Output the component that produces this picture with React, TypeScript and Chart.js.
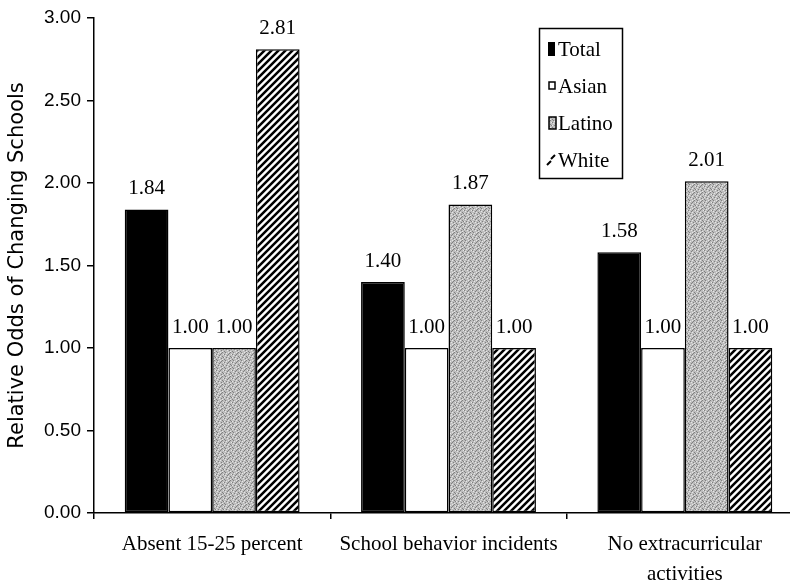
import React, { useEffect, useRef } from "react";
import { Chart, registerables } from "chart.js";

Chart.register(...registerables);

// Categories along the x axis (multi-line labels as arrays)
const categories: (string | string[])[] = [
  "Absent 15-25 percent",
  "School behavior incidents",
  ["No extracurricular", "activities"],
];

// Series
const seriesNames = ["Total", "Asian", "Latino", "White"];
const totalValues = [1.84, 1.4, 1.58];
const asianValues = [1.0, 1.0, 1.0];
const latinoValues = [1.0, 1.87, 2.01];
const whiteValues = [2.81, 1.0, 1.0];

// Y axis
const yTickValues = [0, 0.5, 1, 1.5, 2, 2.5, 3];
const yAxisTitle = "Relative Odds of Changing Schools";

const SERIF = "'Liberation Serif', 'Times New Roman', serif";

// Grey speckled texture for the Latino bars
function makeStipple(): CanvasPattern {
  const rows = [
    "aBaaCaBa",
    "aaCaaBaa",
    "BaaaBaaC",
    "aCaBaaaa",
    "aaaaCaBa",
    "CaBaaaaB",
    "aaaCaBaa",
    "BaaaaaCa",
  ];
  const c = document.createElement("canvas");
  c.width = 8;
  c.height = 8;
  const g = c.getContext("2d")!;
  const col: Record<string, string> = { a: "#bdbdbd", B: "#808080", C: "#e6e6e6" };
  rows.forEach((r, y) => {
    for (let x = 0; x < r.length; x++) {
      g.fillStyle = col[r[x]];
      g.fillRect(x, y, 1, 1);
    }
  });
  return g.createPattern(c, "repeat")!;
}

// Diagonal "///" hatch for the White bars
function makeHatch(): CanvasPattern {
  const s = 7;
  const c = document.createElement("canvas");
  c.width = s;
  c.height = s;
  const g = c.getContext("2d")!;
  g.fillStyle = "#ffffff";
  g.fillRect(0, 0, s, s);
  g.strokeStyle = "#000000";
  g.lineWidth = 2.5;
  g.beginPath();
  g.moveTo(-1, s + 1);
  g.lineTo(s + 1, -1);
  g.moveTo(-1, 1);
  g.lineTo(1, -1);
  g.moveTo(s - 1, s + 1);
  g.lineTo(s + 1, s - 1);
  g.stroke();
  return g.createPattern(c, "repeat")!;
}

// Value printed above every bar
const valueLabels = {
  id: "valueLabels",
  afterDatasetsDraw(chart: any) {
    const ctx = chart.ctx as CanvasRenderingContext2D;
    ctx.save();
    ctx.font = `21px ${SERIF}`;
    ctx.fillStyle = "#000";
    ctx.textAlign = "center";
    ctx.textBaseline = "alphabetic";
    chart.data.datasets.forEach((ds: any, i: number) => {
      const meta = chart.getDatasetMeta(i);
      meta.data.forEach((bar: any, j: number) => {
        const v = ds.data[j] as number;
        ctx.fillText(v.toFixed(2), bar.x, bar.y - 15);
      });
    });
    ctx.restore();
  },
};

// Boxed legend in the upper right of the plot
const legendBox = {
  id: "legendBox",
  afterDraw(chart: any) {
    const ctx = chart.ctx as CanvasRenderingContext2D;
    const ds = chart.data.datasets;
    ctx.save();
    ctx.fillStyle = "#fff";
    ctx.fillRect(539.5, 28.5, 83, 150);
    ctx.strokeStyle = "#000";
    ctx.lineWidth = 1.5;
    ctx.strokeRect(539.5, 28.5, 83, 150);
    ctx.font = `21px ${SERIF}`;
    ctx.textAlign = "left";
    ctx.textBaseline = "alphabetic";
    seriesNames.forEach((name, i) => {
      const base = 56 + i * 37;
      ctx.lineWidth = 1.5;
      ctx.strokeStyle = "#000";
      if (i === 0) {
        ctx.fillStyle = "#000";
        ctx.fillRect(548, base - 14, 7, 14);
      } else if (i === 1) {
        ctx.fillStyle = "#fff";
        ctx.fillRect(549, base - 11, 6, 7);
        ctx.strokeRect(549, base - 11, 6, 7);
      } else if (i === 2) {
        ctx.fillStyle = ds[2].backgroundColor;
        ctx.fillRect(549, base - 13, 7, 12);
        ctx.strokeRect(549, base - 13, 7, 12);
      } else {
        ctx.lineWidth = 2;
        ctx.beginPath();
        ctx.moveTo(547, base - 2);
        ctx.lineTo(551, base - 6);
        ctx.moveTo(551, base - 8);
        ctx.lineTo(555, base - 12);
        ctx.stroke();
      }
      ctx.fillStyle = "#000";
      ctx.fillText(name, 558, base);
    });
    ctx.restore();
  },
};

export default function App() {
  const ref = useRef<HTMLCanvasElement>(null);

  useEffect(() => {
    const stipple = makeStipple();
    const hatch = makeHatch();
    const common = {
      borderColor: "#000",
      borderWidth: 1.5,
      borderSkipped: false,
      categoryPercentage: 0.74,
      barPercentage: 1,
    };
    const chart = new Chart(ref.current!, {
      type: "bar",
      data: {
        labels: categories,
        datasets: [
          { label: seriesNames[0], data: totalValues, backgroundColor: "#000", ...common },
          { label: seriesNames[1], data: asianValues, backgroundColor: "#fff", ...common },
          { label: seriesNames[2], data: latinoValues, backgroundColor: stipple, ...common },
          { label: seriesNames[3], data: whiteValues, backgroundColor: hatch, ...common },
        ],
      } as any,
      options: {
        responsive: false,
        animation: false,
        devicePixelRatio: 1,
        layout: { padding: { top: 18, right: 3, left: 0, bottom: 0 } },
        plugins: {
          legend: { display: false },
          tooltip: { enabled: false },
        },
        scales: {
          x: {
            grid: {
              drawOnChartArea: false,
              drawTicks: true,
              tickLength: 6,
              color: "#000",
              lineWidth: 1.5,
              offset: true,
            },
            border: { display: true, color: "#000", width: 1.5 },
            ticks: {
              color: "#000",
              font: { family: SERIF, size: 21, lineHeight: 1.45 },
              padding: 10,
              maxRotation: 0,
              autoSkip: false,
            },
            afterFit: (s: any) => {
              s.height = 74;
            },
          },
          y: {
            min: 0,
            max: 3,
            afterBuildTicks: (s: any) => {
              s.ticks = yTickValues.map((v) => ({ value: v }));
            },
            grid: {
              drawOnChartArea: false,
              tickLength: 7,
              color: "#000",
              lineWidth: 1.5,
            },
            border: { display: true, color: "#000", width: 1.5 },
            ticks: {
              color: "#000",
              font: { family: "'Liberation Sans', Arial, sans-serif", size: 19 },
              padding: 6,
              callback: (v: any) => Number(v).toFixed(2),
            },
            title: {
              display: true,
              text: yAxisTitle,
              color: "#000",
              font: { family: "'DejaVu Sans', sans-serif", size: 21 },
              padding: { top: 5, bottom: 0 },
            },
            afterFit: (s: any) => {
              s.width = 94;
            },
          },
        },
      } as any,
      plugins: [valueLabels, legendBox],
    });
    return () => chart.destroy();
  }, []);

  return (
    <div
      style={{
        position: "fixed",
        left: 0,
        top: 0,
        width: 790,
        height: 587,
        overflow: "hidden",
        background: "#fff",
      }}
    >
      <canvas ref={ref} width={806} height={587} style={{ display: "block" }} />
    </div>
  );
}
